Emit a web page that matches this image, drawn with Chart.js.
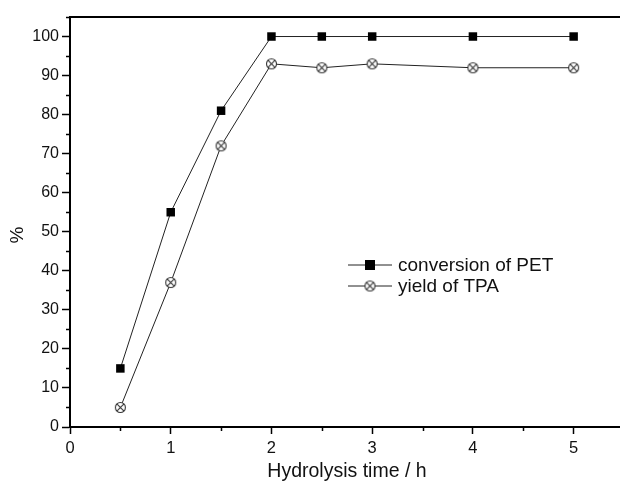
<!DOCTYPE html>
<html>
<head>
<meta charset="utf-8">
<script src="https://cdn.jsdelivr.net/npm/chart.js@4"></script>
<style>
  html, body { margin: 0; padding: 0; background: #fff; overflow: hidden; }
  #grafico { display: block; }
</style>
</head>
<body>
<canvas id="grafico" width="630" height="487"></canvas>
<script>
// datos
const tiempos = [0.5, 1, 1.5, 2, 2.5, 3, 4, 5]
const conversionPET = [15, 55, 81, 100, 100, 100, 100, 100]
const rendimientoTPA = [5, 37, 72, 93, 92, 93, 92, 92]
const etiquetasSeries = ['conversion of PET', 'yield of TPA']
const ticksX = [0, 1, 2, 3, 4, 5]
const ticksY = [0, 10, 20, 30, 40, 50, 60, 70, 80, 90, 100]

const fuente = '"Liberation Sans", Arial, sans-serif'

// marcador circulo con cruz
const marcadorCruz = (() => {
	let c = document.createElement('canvas')
	c.width = 13
	c.height = 13
	let ctx = c.getContext('2d')
	ctx.strokeStyle = '#333'
	ctx.lineWidth = 1.1
	ctx.fillStyle = '#fff'
	ctx.beginPath()
	ctx.arc(6.5, 6.5, 5, 0, Math.PI * 2)
	ctx.fill()
	ctx.stroke()
	let d = 5 * Math.SQRT1_2
	ctx.beginPath()
	ctx.moveTo(6.5 - d, 6.5 - d)
	ctx.lineTo(6.5 + d, 6.5 + d)
	ctx.moveTo(6.5 + d, 6.5 - d)
	ctx.lineTo(6.5 - d, 6.5 + d)
	ctx.stroke()
	return c
})()

// ticks menores, borde superior, titulo del eje y y leyenda
const extras = {
	id: 'extras',
	afterDraw(chart) {
		const ctx = chart.ctx
		const area = chart.chartArea
		const sx = chart.scales.x
		const sy = chart.scales.y
		ctx.save()
		ctx.strokeStyle = '#000'
		ctx.lineWidth = 1.5
		ctx.beginPath()
		for (let v = 0.5; v <= 5.5; v += 1) {
			let px = Math.round(sx.getPixelForValue(v)) + 0.5
			ctx.moveTo(px, area.bottom)
			ctx.lineTo(px, area.bottom + 4)
		}
		for (let v = 5; v <= 105; v += 10) {
			let py = Math.round(sy.getPixelForValue(v)) + 0.5
			ctx.moveTo(area.left, py)
			ctx.lineTo(area.left - 4, py)
		}
		ctx.stroke()
		ctx.lineWidth = 2
		ctx.beginPath()
		ctx.moveTo(area.left - 1, area.top)
		ctx.lineTo(chart.width, area.top)
		ctx.stroke()

		// titulo eje y
		ctx.save()
		ctx.translate(18, 235)
		ctx.rotate(-Math.PI / 2)
		ctx.fillStyle = '#111'
		ctx.font = '19px ' + fuente
		ctx.textAlign = 'center'
		ctx.textBaseline = 'middle'
		ctx.fillText('%', 0, 0)
		ctx.restore()

		// leyenda
		const filas = [
			{ y: 265, marca: 'cuadro' },
			{ y: 286, marca: 'cruz' }
		]
		filas.forEach((f, i) => {
			ctx.strokeStyle = '#222'
			ctx.lineWidth = 1
			ctx.beginPath()
			ctx.moveTo(348, f.y)
			ctx.lineTo(392, f.y)
			ctx.stroke()
			if (f.marca === 'cuadro') {
				ctx.fillStyle = '#000'
				ctx.fillRect(365, f.y - 5, 10, 10)
			} else {
				ctx.drawImage(marcadorCruz, 370 - 6.5, f.y - 6.5)
			}
			ctx.fillStyle = '#111'
			ctx.font = '19px ' + fuente
			ctx.textBaseline = 'middle'
			ctx.textAlign = 'left'
			ctx.fillText(etiquetasSeries[i], 398, f.y + 1)
		})
		ctx.restore()
	}
}

const generarGrafico = () => {
	let lienzo = document.getElementById('grafico')
	let grafico = new Chart(lienzo, {
		type: 'line',
		data: {
			datasets: [
				{
					label: etiquetasSeries[0],
					data: tiempos.map((t, i) => ({ x: t, y: conversionPET[i] })),
					borderColor: '#222',
					borderWidth: 1,
					pointStyle: 'rect',
					pointRadius: 6,
					pointBackgroundColor: '#000',
					pointBorderColor: '#000',
					pointBorderWidth: 0,
					tension: 0
				},
				{
					label: etiquetasSeries[1],
					data: tiempos.map((t, i) => ({ x: t, y: rendimientoTPA[i] })),
					borderColor: '#222',
					borderWidth: 1,
					pointStyle: marcadorCruz,
					tension: 0
				}
			]
		},
		options: {
			responsive: false,
			animation: false,
			devicePixelRatio: 1,
			layout: { padding: { top: 17, right: 2, left: 0, bottom: 0 } },
			plugins: {
				legend: { display: false },
				tooltip: { enabled: false }
			},
			scales: {
				x: {
					type: 'linear',
					min: 0,
					max: 5.5,
					afterBuildTicks: s => { s.ticks = ticksX.map(v => ({ value: v })) },
					afterFit: s => { s.height = 60 },
					grid: {
						drawOnChartArea: false,
						tickLength: 7,
						tickWidth: 1.5,
						tickColor: '#000'
					},
					border: { color: '#000', width: 2 },
					ticks: {
						color: '#111',
						font: { family: fuente, size: 16.5 },
						padding: 5,
						maxRotation: 0
					},
					title: {
						display: true,
						text: 'Hydrolysis time / h',
						color: '#111',
						font: { family: fuente, size: 19.5 },
						padding: { top: 4 }
					}
				},
				y: {
					min: 0,
					max: 105,
					afterBuildTicks: s => { s.ticks = ticksY.map(v => ({ value: v })) },
					afterFit: s => { s.width = 70 },
					grid: {
						drawOnChartArea: false,
						tickLength: 8,
						tickWidth: 1.5,
						tickColor: '#000'
					},
					border: { color: '#000', width: 2 },
					ticks: {
						color: '#111',
						font: { family: fuente, size: 16 },
						padding: 3
					}
				}
			}
		},
		plugins: [extras]
	})
}

generarGrafico()
</script>
</body>
</html>
